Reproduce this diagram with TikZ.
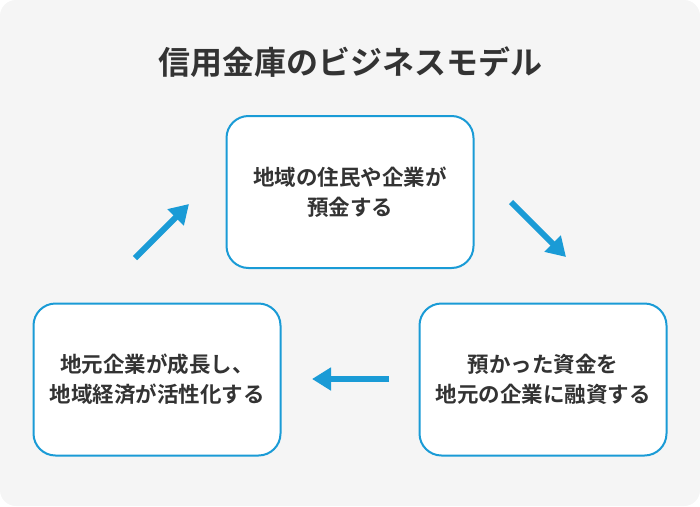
\documentclass[tikz,border=0pt]{standalone}
\usepackage{fontspec}
\setmainfont{Noto Sans CJK JP}[BoldFont={* Bold}]
\usetikzlibrary{arrows.meta}
\definecolor{bg}{HTML}{F5F5F5}
\definecolor{bl}{HTML}{1A9BD6}
\definecolor{tx}{HTML}{333333}
\begin{document}
\begin{tikzpicture}[x=1pt,y=-1pt,
 box/.style={draw=bl,line width=2pt,fill=white,rounded corners=22pt,minimum width=247pt,minimum height=152pt,align=center,font=\bfseries\fontsize{21.5}{30}\selectfont,text=tx},
 arr/.style={draw=bl,line width=6pt,-{Triangle[length=19pt,width=22pt]}}]
\useasboundingbox (0,0) rectangle (700,506);
\fill[bg,rounded corners=16pt] (0,0) rectangle (700,506);
\node[font=\bfseries\fontsize{32}{36}\selectfont,text=tx] (title) at (350,62) {信用金庫のビジネスモデル};
\node[box] (top) at (350,192) {地域の住民や企業が\\預金する};
\node[box] (left) at (157,379.5) {地元企業が成長し、\\地域経済が活性化する};
\node[box] (right) at (543,379.5) {預かった資金を\\地元の企業に融資する};
\coordinate (a1) at (135,258); \coordinate (a2) at (189,204);
\coordinate (b1) at (511,202); \coordinate (b2) at (566,257);
\coordinate (c1) at (389,379); \coordinate (c2) at (312,379);
\draw[arr] (a1) -- (a2);
\draw[arr] (b1) -- (b2);
\draw[arr] (c1) -- (c2);
\end{tikzpicture}
\end{document}
